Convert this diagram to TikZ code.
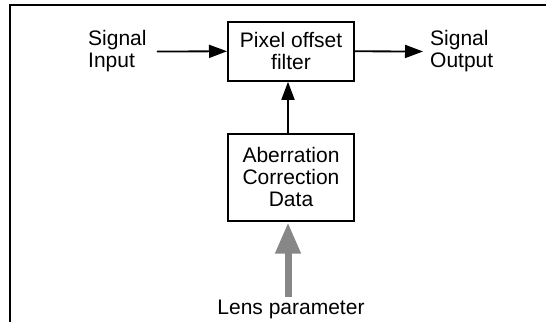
\documentclass[tikz,border=0pt]{standalone}
\usepackage{fontspec}
\setmainfont{Liberation Sans}
\usetikzlibrary{arrows.meta}
\definecolor{lensgray}{gray}{0.53}

\begin{document}
\begin{tikzpicture}[x=1pt,y=1pt,
  font=\fontsize{21}{22}\selectfont,
  box/.style={draw,line width=2pt,minimum width=126pt,align=center,inner sep=0pt},
  lbl/.style={align=left,inner sep=4pt},
  sig/.style={line width=1.8pt,-{Triangle[length=18pt,width=13pt]}}]
\useasboundingbox (0,0) rectangle (551,322);
\draw[line width=2pt] (10,0) -- (10,317) -- (546,317);

\node[box,minimum height=59pt] (filter) at (291,270.7) {Pixel offset\\filter};
\node[box,minimum height=87pt] (aberr) at (291,145) {Aberration\\Correction\\Data};
\node[lbl,anchor=west] (sigin) at (84,270.5) {Signal\\Input};
\node[lbl,anchor=west] (sigout) at (426,270.5) {Signal\\Output};
\node[anchor=base] (lens) at (291,7.5) {Lens parameter};

\draw[sig,shorten <=6pt] (sigin.east) -- (filter.west);
\draw[sig,shorten >=3pt] (filter.east) -- (sigout.west);
\draw[sig] ([xshift=-3pt]aberr.north) -- ([xshift=-3pt]filter.south);
\draw[line width=7pt,lensgray,-{Triangle[length=31pt,width=24pt]},shorten >=1pt]
  ([xshift=-3pt]lens.north) -- ([xshift=-3pt]aberr.south);
\end{tikzpicture}
\end{document}
